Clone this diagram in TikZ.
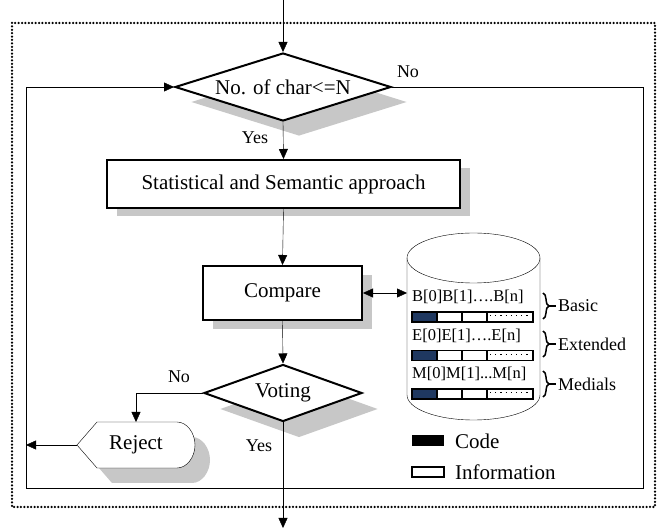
\documentclass[tikz,border=0pt]{standalone}
\usepackage{fontspec}
\setmainfont{Liberation Serif}
\usetikzlibrary{shapes.geometric,arrows.meta,shadows,decorations.pathreplacing,calc}
\pgfdeclarelayer{bg}
\pgfsetlayers{bg,main}
\definecolor{navy}{RGB}{31,56,96}
\begin{document}
\begin{tikzpicture}[x=1pt,y=-1pt, line width=2pt,
  arr/.style={-{Triangle[length=10pt,width=9pt]}},
  dbl/.style={{Triangle[length=10pt,width=9pt]}-{Triangle[length=10pt,width=9pt]}},
  big/.style={font=\fontsize{21}{25}\selectfont},
  small/.style={font=\fontsize{18}{22}\selectfont},
  barfont/.style={font=\fontsize{16.5}{20}\selectfont},
  procbox/.style={draw, fill=white, rectangle, inner sep=0pt, big},
  decide/.style={draw, fill=white, diamond, inner sep=0pt, big},
  dsh/.style 2 args={drop shadow={shadow xshift=#1pt, shadow yshift=-#2pt, fill=black!22, opacity=1}},
  frame/.style={line width=2.5pt, dash pattern=on 0pt off 3.4pt, line cap=round},
  bar/.style={line width=1.6pt},
  lbl/.style={inner sep=0pt, anchor=west},
]
\useasboundingbox (0,0) rectangle (657,529);

% dotted frame
\draw[frame] (12,23) rectangle (655,507);

% nodes
\node[decide, aspect=3.2, minimum width=216pt, minimum height=68pt, dsh={16}{15}] (d1) at (283,87) {No. of char<=N};
\node[procbox, minimum width=353pt, minimum height=48pt, dsh={10}{8}] (stat) at (283.5,184) {Statistical and Semantic approach};
\node[procbox, minimum width=159pt, minimum height=54pt, dsh={10}{9}] (cmp) at (282.5,293) {Compare};
\node[decide, aspect=2.8, minimum width=158pt, minimum height=57pt, dsh={16}{16}] (vote) at (283,393) {Voting};
\node[inner sep=0pt, minimum width=116pt, minimum height=44pt, big] (rej) at (136,445) {Reject};

% reject outline with shadow
\newcommand\rejpath{(rej.west) -- ($(rej.north west)+(20,0)$) -- ($(rej.north east)+(-18,0)$)
  .. controls ($(rej.north east)+(-8,0)$) and ($(rej.east)+(0,-12)$) .. (rej.east)
  .. controls ($(rej.east)+(0,12)$) and ($(rej.south east)+(-8,0)$) .. ($(rej.south east)+(-18,0)$)
  -- ($(rej.south west)+(20,0)$) -- cycle}
\begin{pgfonlayer}{bg}
  \fill[black!22, transform canvas={xshift=15pt, yshift=-15pt}] \rejpath;
  \fill[white] \rejpath;
\end{pgfonlayer}
\draw \rejpath;

% coordinates of the loop and free ends
\coordinate (tl) at (26,87);
\coordinate (tr) at (643,87);
\coordinate (bl) at (26,488);
\coordinate (br) at (643,488);
\coordinate (in) at (283,0);
\coordinate (out) at (283,528);
\coordinate (dbL) at (407,293);

% connectors
\draw[arr] (in) -- (d1.north);
\draw[arr] (d1.east) -- (tr) -- (br) -- (bl) -- (tl) -- (d1.west);
\draw[arr] (d1.south) -- (stat.north);
\draw[arr] (stat.south) -- (cmp.north);
\draw[arr] (cmp.south) -- (vote.north);
\draw[arr] (vote.west) -| (rej.north);
\draw[arr] (rej.west) -- (rej.west -| tl);
\draw[arr] (vote.south) -- (out);
\draw[dbl] (cmp.east) -- (dbL);

% labels
\node[small] (no1) at (408,72) {No};
\node[small] (yes1) at (255,138) {Yes};
\node[small] (no2) at (179,377) {No};
\node[small] (yes2) at (259,446) {Yes};

% database cylinder
\draw (407,258) -- (407,395) .. controls (407,408.8) and (436.8,420) .. (473.5,420)
  .. controls (510.2,420) and (540,408.8) .. (540,395) -- (540,258);
\draw (473.5,258) ellipse [x radius=66.5, y radius=25];

\foreach \yy in {317,355.5,394} {
  \fill[navy] (412,\yy-5) rectangle (437,\yy+5);
  \draw[bar] (412,\yy-5) rectangle (533,\yy+5);
  \draw[bar] (437,\yy-5) -- (437,\yy+5);
  \draw[bar] (462,\yy-5) -- (462,\yy+5);
  \draw[bar] (487,\yy-5) -- (487,\yy+5);
  \draw[line width=1pt, dash pattern=on 1.2pt off 4pt] (490,\yy-1) -- (531,\yy-1);
}
\node[barfont, lbl] (tB) at (412,297) {B[0]B[1]….B[n]};
\node[barfont, lbl] (tE) at (412,335.5) {E[0]E[1]….E[n]};
\node[barfont, lbl] (tM) at (412,374) {M[0]M[1]...M[n]};

% braces
\foreach \ya/\yb/\ym in {293/319/306, 331/357/344, 371/397/384} {
  \draw[line width=1.5pt, decorate, decoration={brace, amplitude=6pt}] (543,\ya) -- (543,\yb);
  \draw[line width=1.5pt] (549,\ym) -- (556,\ym);
}
\node[small, lbl] (basic) at (558,306) {Basic};
\node[small, lbl] (ext) at (558,344) {Extended};
\node[small, lbl] (med) at (558,384) {Medials};

% legend
\fill (412,435) rectangle (444,446);
\draw[bar] (412,467) rectangle (444,477);
\node[big, lbl] (code) at (455,441) {Code};
\node[big, lbl] (info) at (455,472) {Information};
\end{tikzpicture}
\end{document}
